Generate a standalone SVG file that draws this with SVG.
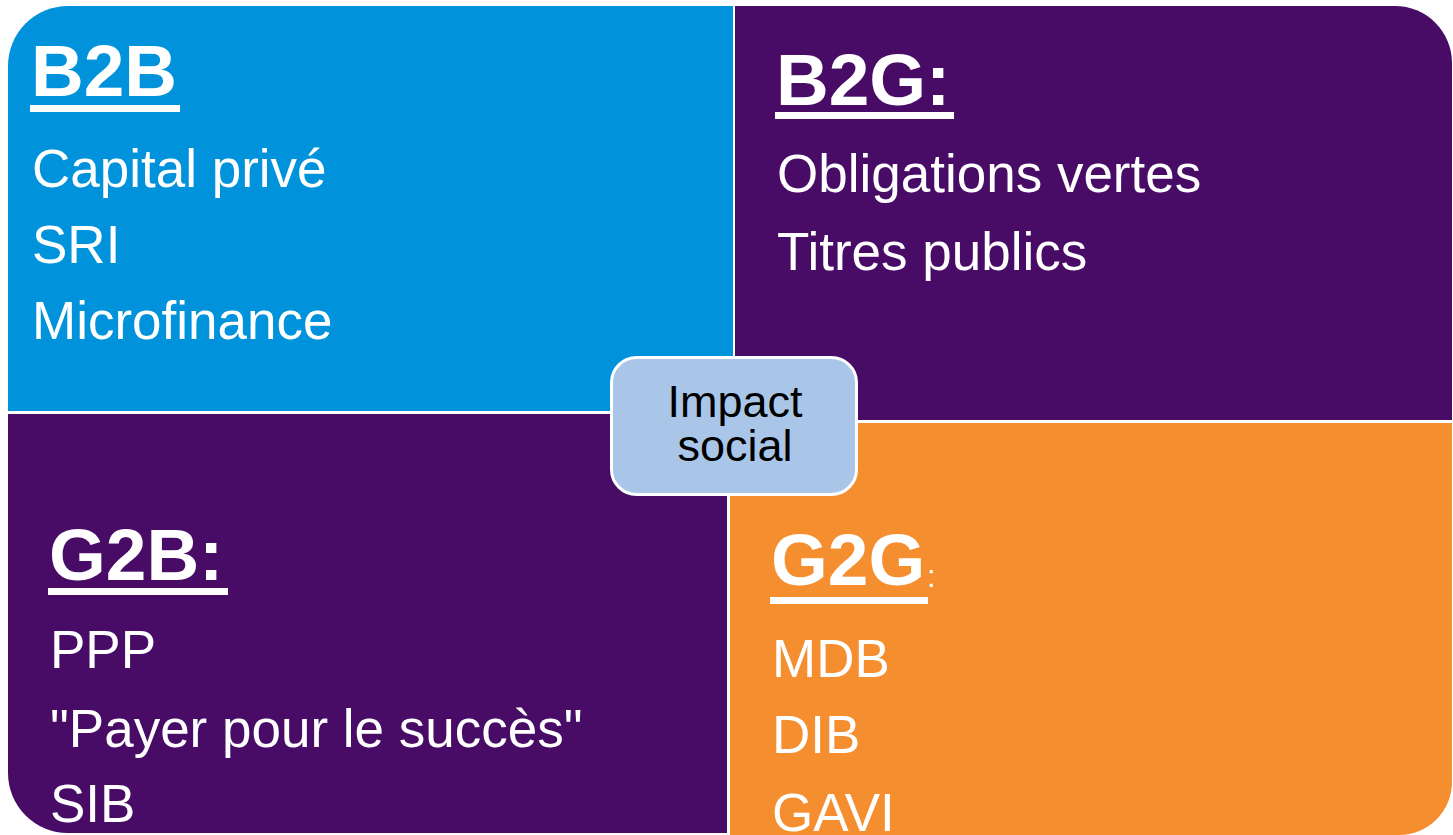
<svg xmlns="http://www.w3.org/2000/svg" width="1453" height="835" viewBox="0 0 1453 835">
<style>
.h{font-family:"Liberation Sans",Arial,sans-serif;font-weight:bold;font-size:73px;fill:#fff}
.t{font-family:"Liberation Sans",Arial,sans-serif;font-size:53px;fill:#fff}
.c{font-family:"Liberation Sans",Arial,sans-serif;font-size:45px;fill:#000;text-anchor:middle}
.u{fill:#fff}
</style>
<rect width="1453" height="835" fill="#fff"/>
<g id="b2b">
<path d="M8,66 A60,60 0 0 1 68,6 L733,6 L733,411 L8,411 Z" fill="#0092DA"/>
<text class="h" x="31" y="96">B2B</text>
<rect class="u" x="30" y="105" width="150" height="7"/>
<text class="t" x="32" y="187">Capital privé</text>
<text class="t" x="32" y="263">SRI</text>
<text class="t" x="32" y="339">Microfinance</text>
</g>
<g id="b2g">
<path d="M735,6 L1395,6 A57,57 0 0 1 1452,63 L1452,420 L735,420 Z" fill="#480C67"/>
<text class="h" x="776" y="105">B2G:</text>
<rect class="u" x="775" y="112" width="179" height="7"/>
<text class="t" x="777" y="192">Obligations vertes</text>
<text class="t" x="777" y="270">Titres publics</text>
</g>
<g id="g2b">
<path d="M8,414 L727,414 L727,833 L68,833 A60,60 0 0 1 8,773 Z" fill="#480C67"/>
<text class="h" x="49" y="580">G2B:</text>
<rect class="u" x="48" y="588" width="180" height="7"/>
<text class="t" x="50" y="668">PPP</text>
<text class="t" x="50" y="747">"Payer pour le succès"</text>
<text class="t" x="50" y="822">SIB</text>
</g>
<g id="g2g">
<path d="M730,423 L1452,423 L1452,782 A53,53 0 0 1 1399,835 L730,835 Z" fill="#F58E2F"/>
<text class="h" x="771" y="585">G2G</text>
<text class="t" x="927" y="587" style="font-size:31px">:</text>
<rect class="u" x="770" y="597" width="158" height="7"/>
<text class="t" x="772" y="677">MDB</text>
<text class="t" x="772" y="753">DIB</text>
<text class="t" x="772" y="831">GAVI</text>
</g>
<g id="center">
<rect x="611.5" y="357.5" width="245" height="137" rx="25" ry="25" fill="#A9C6E8" stroke="#fff" stroke-width="3"/>
<text class="c" x="735" y="417">Impact</text>
<text class="c" x="735" y="461">social</text>
</g>
<g id="connectors"/>
</svg>
